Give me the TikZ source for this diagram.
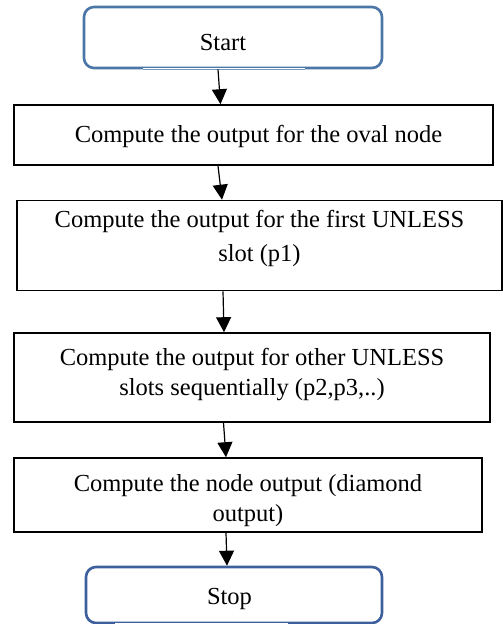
\documentclass[tikz,border=0pt]{standalone}
\usepackage{fontspec}
\setmainfont{Liberation Serif}
\usetikzlibrary{arrows.meta}
\definecolor{termblue}{HTML}{4A76A8}
\definecolor{stopblue}{HTML}{3E5F9E}
\begin{document}
\begin{tikzpicture}[x=1pt,y=-1pt,
  every node/.style={font=\fontsize{24.5}{30}\selectfont},
  procbox/.style={draw=black, line width=1.6pt, inner sep=0pt},
  termbox/.style={draw=termblue, line width=2.6pt, rounded corners=10pt, inner sep=0pt},
  txt/.style={align=center},
  flow/.style={draw=black, line width=1.2pt, -{Triangle[length=15pt,width=15pt]}}
]
\useasboundingbox (0,0) rectangle (503,624);

% terminals
\node[termbox, minimum width=298pt, minimum height=61pt,
      label={[xshift=-10pt,yshift=-5.5pt]center:Start}] (start) at (233,37.5) {};
\node[termbox, draw=stopblue, minimum width=296pt, minimum height=56pt,
      label={[xshift=-4.5pt,yshift=-4pt]center:Stop}] (stop) at (234,595) {};

% process steps
\node[procbox, minimum width=479pt, minimum height=60pt,
      label={[txt,xshift=5pt,yshift=-1pt]center:Compute the output for the oval node}] (b1) at (253.5,135) {};
\node[procbox, minimum width=485pt, minimum height=90pt,
      label={[txt,yshift=7pt,font=\fontsize{24.5}{34}\selectfont]center:Compute the output for the first UNLESS\\slot (p1)}] (b2) at (259.5,245.5) {};
\node[procbox, minimum width=476pt, minimum height=89pt,
      label={[txt,yshift=3pt]center:Compute the output for other UNLESS\\slots sequentially (p2,p3,..)}] (b3) at (252,377.5) {};
\node[procbox, minimum width=468pt, minimum height=74pt,
      label={[txt,yshift=-6pt]center:Compute the node output (diamond\\output)}] (b4) at (248,495) {};

% broken bottom edges of the terminals
\draw[white, line width=3.4pt] ([xshift=-90pt]start.south) -- ([xshift=72pt]start.south);
\draw[termblue!75, line width=0.9pt] ([xshift=-90pt]start.south) -- ([xshift=72pt]start.south);
\draw[white, line width=3.4pt] ([xshift=-119pt]stop.south) -- ([xshift=54pt]stop.south);

% connectors
\draw[flow] ([xshift=-15pt]start.south) -- ([xshift=-33pt]b1.north);
\draw[flow] ([xshift=-35.5pt]b1.south) -- ([xshift=-37.5pt]b2.north);
\draw[flow] ([xshift=-36.5pt]b2.south) -- ([xshift=-28pt]b3.north);
\draw[flow] ([xshift=-28.5pt]b3.south) -- ([xshift=-22pt]b4.north);
\draw[flow] ([xshift=-22pt]b4.south) -- ([xshift=-7pt]stop.north);
\end{tikzpicture}
\end{document}
